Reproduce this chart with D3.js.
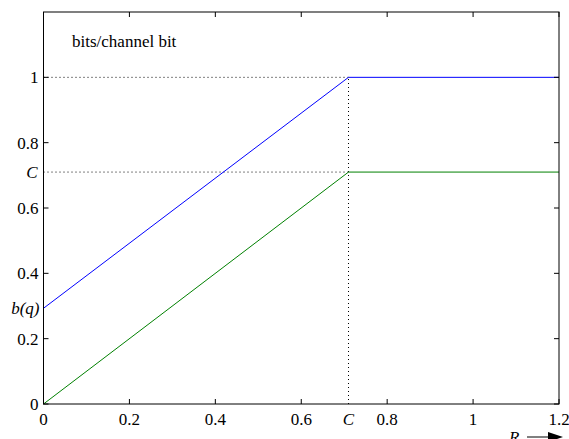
<!DOCTYPE html>
<html>
<head>
<script src="https://d3js.org/d3.v7.min.js"></script>
<style>
body { margin: 0; background: white; }
text { font-family: "Liberation Serif", "Times New Roman", serif; }
</style>
</head>
<body>
<svg id="chart" width="569" height="439"></svg>
<script>
const capC = 0.71;
const bq = 0.293;
const rates = [0, capC, 1.2];
const upper = [bq, 1, 1];
const lower = [0, capC, capC];
const xTicks = [0, 0.2, 0.4, 0.6, 0.8, 1, 1.2];
const yTicks = [0, 0.2, 0.4, 0.6, 0.8, 1];

const padL = 43.5, padR = 559, padT = 12, padB = 404;
const svg = d3.select("#chart");
const x = d3.scaleLinear().domain([0, 1.2]).range([padL, padR]);
const y = d3.scaleLinear().domain([0, 1.2]).range([padB, padT]);

// dotted guides
const dots = [[0, 1, capC, 1], [0, capC, capC, capC], [capC, 0, capC, 1]];
svg.selectAll(".guide").data(dots).enter().append("line")
  .attr("x1", d => x(d[0])).attr("y1", d => y(d[1]))
  .attr("x2", d => x(d[2])).attr("y2", d => y(d[3]))
  .attr("stroke", "black").attr("stroke-width", 1)
  .attr("stroke-dasharray", "1,3");

const line = d3.line().x(d => x(d[0])).y(d => y(d[1]));
svg.append("path").datum(d3.zip(rates, upper)).attr("d", line)
  .attr("fill", "none").attr("stroke", "#0000ff").attr("stroke-width", 1);
svg.append("path").datum(d3.zip(rates, lower)).attr("d", line)
  .attr("fill", "none").attr("stroke", "#008000").attr("stroke-width", 1);

// box
svg.append("rect").attr("x", padL).attr("y", padT)
  .attr("width", padR - padL).attr("height", padB - padT)
  .attr("fill", "none").attr("stroke", "black").attr("stroke-width", 1);

// ticks, inward on all sides
const tl = 5;
xTicks.forEach(t => {
  svg.append("line").attr("x1", x(t)).attr("x2", x(t)).attr("y1", padB).attr("y2", padB - tl).attr("stroke", "black");
  svg.append("line").attr("x1", x(t)).attr("x2", x(t)).attr("y1", padT).attr("y2", padT + tl).attr("stroke", "black");
  svg.append("text").attr("x", x(t)).attr("y", padB + 21).attr("text-anchor", "middle")
    .style("font-size", "17px").text(t);
});
yTicks.forEach(t => {
  svg.append("line").attr("y1", y(t)).attr("y2", y(t)).attr("x1", padL).attr("x2", padL + tl).attr("stroke", "black");
  svg.append("line").attr("y1", y(t)).attr("y2", y(t)).attr("x1", padR).attr("x2", padR - tl).attr("stroke", "black");
  svg.append("text").attr("x", padL - 5).attr("y", y(t)).attr("dy", "0.35em").attr("text-anchor", "end")
    .style("font-size", "17px").text(t);
});

// special labels
svg.append("text").attr("x", padL - 6).attr("y", y(capC)).attr("dy", "0.35em").attr("text-anchor", "end")
  .style("font-size", "17px").style("font-style", "italic").text("C");
svg.append("text").attr("x", padL - 4).attr("y", y(bq)).attr("dy", "0.35em").attr("text-anchor", "end")
  .style("font-size", "17px").style("font-style", "italic").text("b(q)");
svg.append("text").attr("x", x(capC)).attr("y", padB + 21).attr("text-anchor", "middle")
  .style("font-size", "17px").style("font-style", "italic").text("C");

svg.append("text").attr("x", 72).attr("y", 47).style("font-size", "17px").text("bits/channel bit");

// R arrow
svg.append("text").attr("x", 509).attr("y", 443).style("font-size", "17px").style("font-style", "italic").text("R");
svg.append("line").attr("x1", 527).attr("x2", 550).attr("y1", 437).attr("y2", 437).attr("stroke", "black");
svg.append("path").attr("d", "M548,432 L563,437 L548,442 Z").attr("fill", "black");
</script>
</body>
</html>
